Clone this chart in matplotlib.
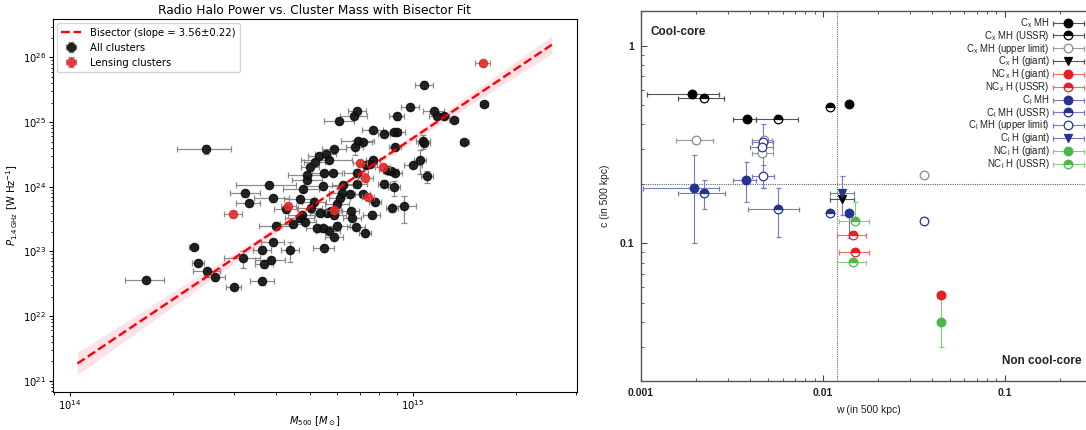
import numpy as np
import matplotlib
matplotlib.use("Agg")
import matplotlib.pyplot as plt
from matplotlib.container import ErrorbarContainer
from matplotlib.legend_handler import HandlerErrorbar
from matplotlib.ticker import FixedLocator, FixedFormatter, LogLocator, NullFormatter

# ---------------- left panel: radio halo power vs cluster mass ----------------
# M500 in units of 1e14 Msun, log10 P_1.4GHz [W/Hz], fractional errors
mass_all = [10.83, 9.84, 11.55, 11.75, 9.01, 6.90, 6.75, 6.11, 7.67, 8.26,
            8.81, 9.03, 10.74, 10.78, 6.93, 6.78, 7.18, 8.89, 5.91, 2.50,
            5.59, 5.34, 5.70, 5.18, 7.67, 10.52, 10.05, 5.03, 7.31, 7.52,
            6.87, 8.41, 8.64, 8.89, 4.91, 5.53, 5.86, 4.93, 11.03, 3.81,
            3.25, 3.32, 4.77, 5.49, 6.25, 6.87, 8.26, 8.81, 6.21, 6.58,
            7.16, 7.79, 3.90, 4.69, 5.17, 6.02, 6.14, 5.04, 5.38, 5.62,
            6.60, 8.73, 9.45, 4.76, 4.27, 4.70, 4.84, 5.91, 6.67, 7.60,
            3.99, 4.47, 6.01, 6.85, 5.25, 5.49, 5.77, 5.69, 5.89, 7.27,
            3.91, 3.64, 4.39, 5.52, 2.30, 2.36, 2.51, 2.64, 3.20, 3.85,
            3.68, 3.64, 3.00, 1.66, 16.17, 13.18, 14.16, 12.36]
logp_all = [25.58, 25.24, 25.18, 25.09, 25.09, 25.17, 25.09, 25.01, 24.88, 24.82,
            24.84, 24.84, 24.71, 24.68, 24.71, 24.62, 24.69, 24.61, 24.58, 24.58,
            24.51, 24.48, 24.41, 24.39, 24.42, 24.42, 24.34, 24.31, 24.34, 24.36,
            24.22, 24.26, 24.24, 24.22, 24.18, 24.21, 24.21, 24.11, 24.16, 24.03,
            23.90, 23.75, 23.97, 24.01, 24.03, 24.04, 24.05, 23.99, 23.91, 23.89,
            23.89, 23.77, 23.82, 23.81, 23.77, 23.74, 23.83, 23.67, 23.60, 23.60,
            23.63, 23.67, 23.70, 23.57, 23.65, 23.52, 23.46, 23.56, 23.52, 23.57,
            23.40, 23.43, 23.40, 23.38, 23.36, 23.36, 23.62, 23.32, 23.23, 23.28,
            23.14, 23.03, 23.02, 23.05, 23.07, 22.82, 22.70, 22.60, 22.90, 22.86,
            22.80, 22.54, 22.45, 22.56, 25.28, 25.03, 24.70, 25.09]
mass_err_all = [0.06, 0.06, 0.07, 0.05, 0.05, 0.06, 0.09, 0.10, 0.07, 0.04,
                0.05, 0.05, 0.05, 0.04, 0.11, 0.06, 0.06, 0.04, 0.08, 0.18,
                0.07, 0.07, 0.17, 0.07, 0.05, 0.04, 0.06, 0.06, 0.05, 0.05,
                0.08, 0.05, 0.05, 0.05, 0.12, 0.08, 0.06, 0.10, 0.04, 0.20,
                0.10, 0.08, 0.12, 0.12, 0.07, 0.07, 0.04, 0.04, 0.08, 0.06,
                0.05, 0.04, 0.12, 0.10, 0.08, 0.08, 0.07, 0.08, 0.07, 0.07,
                0.06, 0.04, 0.08, 0.09, 0.08, 0.10, 0.08, 0.08, 0.06, 0.06,
                0.11, 0.08, 0.09, 0.06, 0.07, 0.07, 0.06, 0.08, 0.06, 0.04,
                0.08, 0.06, 0.06, 0.07, 0.03, 0.04, 0.09, 0.07, 0.12, 0.10,
                0.06, 0.08, 0.05, 0.13, 0.03, 0.03, 0.03, 0.03]
power_err_all = [0.12, 0.10, 0.10, 0.10, 0.12, 0.10, 0.10, 0.10, 0.10, 0.10,
                 0.10, 0.10, 0.25, 0.10, 0.12, 0.25, 0.10, 0.10, 0.10, 0.15,
                 0.10, 0.10, 0.10, 0.10, 0.10, 0.40, 0.10, 0.10, 0.10, 0.10,
                 0.12, 0.10, 0.10, 0.10, 0.12, 0.10, 0.10, 0.12, 0.20, 0.12,
                 0.12, 0.10, 0.12, 0.12, 0.12, 0.12, 0.12, 0.25, 0.12, 0.12,
                 0.12, 0.12, 0.12, 0.12, 0.12, 0.15, 0.12, 0.12, 0.12, 0.12,
                 0.12, 0.12, 0.45, 0.12, 0.12, 0.12, 0.12, 0.12, 0.12, 0.12,
                 0.12, 0.12, 0.12, 0.12, 0.12, 0.12, 0.12, 0.12, 0.12, 0.12,
                 0.12, 0.12, 0.35, 0.12, 0.08, 0.10, 0.12, 0.12, 0.30, 0.12,
                 0.12, 0.12, 0.10, 0.10, 0.08, 0.08, 0.08, 0.08]

mass_lens = [16.06, 7.03, 8.20, 7.28, 7.43, 4.34, 5.89, 2.99]
logp_lens = [25.91, 24.37, 24.31, 24.13, 23.84, 23.70, 23.64, 23.58]
mass_err_lens = [0.05, 0.05, 0.05, 0.05, 0.04, 0.05, 0.05, 0.06]
power_err_lens = [0.08, 0.12, 0.10, 0.10, 0.10, 0.10, 0.10, 0.10]

# bisector fit
slope, slope_err = 3.56, 0.22
norm_1e15 = 24.75          # log10 P at M500 = 1e15 Msun
pivot = 14.8               # log10 M where the band is narrowest
fit_mmin, fit_mmax = 1.05e14, 2.55e15

# ---------------- right panel: c vs w ----------------
# each series: w, c, (w_lo, w_hi), (c_lo, c_hi)
cx_mh_w = [0.00190, 0.00382, 0.0140]
cx_mh_c = [0.57, 0.426, 0.505]
cx_mh_wr = [(0.00108, 0.0027), (0.00322, 0.0043), (0.0140, 0.0140)]
cx_mh_cr = [(0.57, 0.57), (0.426, 0.426), (0.505, 0.505)]

cx_ussr_w = [0.00222, 0.00564, 0.0110]
cx_ussr_c = [0.545, 0.426, 0.488]
cx_ussr_wr = [(0.00160, 0.00285), (0.0043, 0.0073), (0.0110, 0.0110)]
cx_ussr_cr = [(0.545, 0.545), (0.426, 0.426), (0.488, 0.488)]

cx_ul_w = [0.00201, 0.00472, 0.00463, 0.0360]
cx_ul_c = [0.333, 0.333, 0.288, 0.223]
cx_ul_wr = [(0.00155, 0.00248), (0.00407, 0.00525), (0.0041, 0.0053), (0.0360, 0.0360)]
cx_ul_cr = [(0.333, 0.333), (0.333, 0.333), (0.288, 0.288), (0.223, 0.223)]

cx_giant_w = [0.0128]
cx_giant_c = [0.168]
cx_giant_wr = [(0.0110, 0.0149)]
cx_giant_cr = [(0.168, 0.168)]

ncx_giant_w = [0.0447]
ncx_giant_c = [0.0548]
ncx_giant_wr = [(0.0425, 0.0470)]
ncx_giant_cr = [(0.0548, 0.0548)]

ncx_ussr_w = [0.0146, 0.0150]
ncx_ussr_c = [0.110, 0.0906]
ncx_ussr_wr = [(0.0119, 0.0172), (0.0122, 0.0180)]
ncx_ussr_cr = [(0.110, 0.110), (0.0906, 0.0906)]

cl_mh_w = [0.00195, 0.00378, 0.0139]
cl_mh_c = [0.190, 0.209, 0.142]
cl_mh_wr = [(0.00102, 0.0027), (0.0032, 0.0043), (0.0139, 0.0139)]
cl_mh_cr = [(0.100, 0.28), (0.162, 0.259), (0.106, 0.142)]

cl_ussr_w = [0.00222, 0.00564, 0.0110]
cl_ussr_c = [0.180, 0.150, 0.142]
cl_ussr_wr = [(0.0016, 0.0029), (0.0039, 0.0074), (0.0110, 0.0110)]
cl_ussr_cr = [(0.15, 0.21), (0.108, 0.19), (0.142, 0.142)]

cl_ul_w = [0.00466, 0.00463, 0.00470, 0.0360]
cl_ul_c = [0.327, 0.308, 0.219, 0.130]
cl_ul_wr = [(0.0041, 0.0053), (0.0040, 0.0053), (0.0041, 0.0054), (0.0360, 0.0360)]
cl_ul_cr = [(0.19, 0.40), (0.28, 0.34), (0.19, 0.25), (0.130, 0.130)]

cl_giant_w = [0.0128]
cl_giant_c = [0.179]
cl_giant_wr = [(0.0110, 0.0149)]
cl_giant_cr = [(0.139, 0.219)]

ncl_giant_w = [0.0447]
ncl_giant_c = [0.0398]
ncl_giant_wr = [(0.0425, 0.0470)]
ncl_giant_cr = [(0.030, 0.055)]

ncl_ussr_w = [0.0150, 0.0146]
ncl_ussr_c = [0.130, 0.0801]
ncl_ussr_wr = [(0.0122, 0.0180), (0.0119, 0.0172)]
ncl_ussr_cr = [(0.130, 0.162), (0.0801, 0.0801)]

w_split, c_split = 0.012, 0.2

# ============================================================================
fig = plt.figure(figsize=(10.86, 4.30), dpi=100)

# ---- left ----
ax = fig.add_axes([0.0488, 0.089, 0.4825, 0.866])

m_all = np.array(mass_all) * 1e14
p_all = 10 ** np.array(logp_all)
m_len = np.array(mass_lens) * 1e14
p_len = 10 ** np.array(logp_lens)

lx = np.linspace(np.log10(fit_mmin), np.log10(fit_mmax), 200)
ly = norm_1e15 + slope * (lx - 15)
band = np.sqrt((slope_err * (lx - pivot)) ** 2 + 0.03 ** 2)
ax.fill_between(10 ** lx, 10 ** (ly - band), 10 ** (ly + band),
                color="pink", alpha=0.45, lw=0, zorder=1)
ax.plot(10 ** lx, 10 ** ly, "--", color="red", lw=1.7,
        label=f"Bisector (slope = {slope:.2f}\u00b1{slope_err:.2f})", zorder=4)

ax.errorbar(m_all, p_all, xerr=m_all * np.array(mass_err_all),
            yerr=p_all * np.array(power_err_all), fmt="o", color="#111111",
            ms=5.9, alpha=0.9, ecolor="grey", elinewidth=0.9, capsize=2.2,
            capthick=0.9, label="All clusters", zorder=2)
ax.errorbar(m_len, p_len, xerr=m_len * np.array(mass_err_lens),
            yerr=p_len * np.array(power_err_lens), fmt="o", color="#e82626",
            ms=5.9, alpha=0.85, ecolor="grey", elinewidth=0.9, capsize=2.2,
            capthick=0.9, label="Lensing clusters", zorder=3)

ax.set_xscale("log")
ax.set_yscale("log")
ax.set_xlim(10 ** 13.95, 10 ** 15.48)
ax.set_ylim(10 ** 20.83, 10 ** 26.59)
ax.set_xlabel(r"$M_{500}$ [$M_\odot$]", fontsize=7.2, labelpad=1)
ax.set_ylabel(r"$P_{1.4\,\mathrm{GHz}}$ [W Hz$^{-1}$]", fontsize=7.2, labelpad=2)
ax.set_title("Radio Halo Power vs. Cluster Mass with Bisector Fit", fontsize=8.8, pad=4)
ax.tick_params(labelsize=7.2, length=3, pad=2)
ax.tick_params(which="minor", length=1.8)
ax.legend(loc="upper left", fontsize=7.2, borderpad=0.45, labelspacing=0.5,
          handletextpad=0.9, borderaxespad=0.4)

# ---- right ----
ink = "#222222"
rx = fig.add_axes([0.5902, 0.1147, 0.418, 0.8597])
rx.set_xscale("log")
rx.set_yscale("log")


def draw(w, c, wr, cr, marker, color, ecolor, fill, label):
    w = np.array(w)
    c = np.array(c)
    wr = np.array(wr)
    cr = np.array(cr)
    style = dict(marker=marker, ms=6.2, mec=color, mew=0.9, ls="none",
                 ecolor=ecolor, elinewidth=0.8, capsize=1.8, capthick=0.8)
    if fill == "full":
        style.update(mfc=color)
    elif fill == "half":
        style.update(mfc=color, fillstyle="top", markerfacecoloralt="white")
    else:
        style.update(mfc="white")
    rx.errorbar(w, c, xerr=[w - wr[:, 0], wr[:, 1] - w],
                yerr=[c - cr[:, 0], cr[:, 1] - c], zorder=3, **style)
    # proxy for the legend: horizontal bar only
    return rx.errorbar([1e-9], [1e-9], xerr=[1e-10], label=label, **style)


blk, gry, red, blu, grn = "#000000", "#8a8a8a", "#ec1c24", "#25358f", "#4db848"
eblk, egry, ered, eblu, egrn = "#555555", "#9a9a9a", "#f06a6a", "#7a7ac4", "#84cf82"

handles = [
    draw(cx_mh_w, cx_mh_c, cx_mh_wr, cx_mh_cr, "o", blk, eblk, "full", r"C$_\mathregular{x}$ MH"),
    draw(cx_ussr_w, cx_ussr_c, cx_ussr_wr, cx_ussr_cr, "o", blk, eblk, "half", r"C$_\mathregular{x}$ MH (USSR)"),
    draw(cx_ul_w, cx_ul_c, cx_ul_wr, cx_ul_cr, "o", gry, egry, "open", r"C$_\mathregular{x}$ MH (upper limit)"),
    draw(cx_giant_w, cx_giant_c, cx_giant_wr, cx_giant_cr, "v", blk, eblk, "full", r"C$_\mathregular{x}$ H (giant)"),
    draw(ncx_giant_w, ncx_giant_c, ncx_giant_wr, ncx_giant_cr, "o", red, ered, "full", r"NC$_\mathregular{x}$ H (giant)"),
    draw(ncx_ussr_w, ncx_ussr_c, ncx_ussr_wr, ncx_ussr_cr, "o", red, ered, "half", r"NC$_\mathregular{x}$ H (USSR)"),
    draw(cl_mh_w, cl_mh_c, cl_mh_wr, cl_mh_cr, "o", blu, eblu, "full", r"C$_\mathregular{l}$ MH"),
    draw(cl_ussr_w, cl_ussr_c, cl_ussr_wr, cl_ussr_cr, "o", blu, eblu, "half", r"C$_\mathregular{l}$ MH (USSR)"),
    draw(cl_ul_w, cl_ul_c, cl_ul_wr, cl_ul_cr, "o", blu, eblu, "open", r"C$_\mathregular{l}$ MH (upper limit)"),
    draw(cl_giant_w, cl_giant_c, cl_giant_wr, cl_giant_cr, "v", blu, eblu, "full", r"C$_\mathregular{l}$ H (giant)"),
    draw(ncl_giant_w, ncl_giant_c, ncl_giant_wr, ncl_giant_cr, "o", grn, egrn, "full", r"NC$_\mathregular{l}$ H (giant)"),
    draw(ncl_ussr_w, ncl_ussr_c, ncl_ussr_wr, ncl_ussr_cr, "o", grn, egrn, "half", r"NC$_\mathregular{l}$ H (USSR)"),
]

rx.axvline(w_split, color="#666666", lw=0.8, ls=(0, (1, 1)), zorder=1)
rx.axhline(c_split, color="#666666", lw=0.8, ls=(0, (1, 1)), zorder=1)

rx.set_xlim(0.001, 0.313)
rx.set_ylim(0.0202, 1.5)
rx.xaxis.set_major_locator(FixedLocator([0.001, 0.01, 0.1]))
rx.xaxis.set_major_formatter(FixedFormatter(["0.001", "0.01", "0.1"]))
rx.yaxis.set_major_locator(FixedLocator([0.1, 1]))
rx.yaxis.set_major_formatter(FixedFormatter(["0.1", "1"]))
rx.xaxis.set_minor_locator(LogLocator(subs=np.arange(2, 10)))
rx.yaxis.set_minor_locator(LogLocator(subs=np.arange(2, 10)))
rx.xaxis.set_minor_formatter(NullFormatter())
rx.yaxis.set_minor_formatter(NullFormatter())
rx.tick_params(which="both", direction="in", top=True, right=True,
               labelsize=7.5, colors="#444444", labelcolor=ink, pad=5)
rx.tick_params(which="major", length=4, width=0.8)
rx.tick_params(which="minor", length=2, width=0.6)
for lbl in rx.get_xticklabels() + rx.get_yticklabels():
    lbl.set_fontfamily("Liberation Sans")
    lbl.set_fontweight("bold")
for s in rx.spines.values():
    s.set_color("#555555")
    s.set_linewidth(1.0)

rx.set_xlabel("w (in 500 kpc)", fontsize=7.5, family="Liberation Sans", color=ink, labelpad=5)
rx.set_ylabel("c (in 500 kpc)", fontsize=7.5, family="Liberation Sans", color=ink, labelpad=7)

rx.text(0.02, 0.943, "Cool-core", transform=rx.transAxes, fontsize=8.5,
        fontweight="bold", family="Liberation Sans", color=ink, va="center")
rx.text(0.971, 0.053, "Non cool-core", transform=rx.transAxes, fontsize=8.5,
        fontweight="bold", family="Liberation Sans", color=ink, va="center", ha="right")

leg = rx.legend(handles=handles, loc="upper right", bbox_to_anchor=(1084 / 1086, 1 - 16 / 430),
                bbox_transform=fig.transFigure, markerfirst=False, frameon=False,
                prop={"family": "Liberation Sans", "size": 6.9}, labelspacing=-0.12,
                handlelength=3.3, handletextpad=0.3, borderpad=0, borderaxespad=0,
                handler_map={ErrorbarContainer: HandlerErrorbar(xerr_size=1.6)})
for t in leg.get_texts():
    t.set_color(ink)

fig.savefig("out.png", dpi=100)
